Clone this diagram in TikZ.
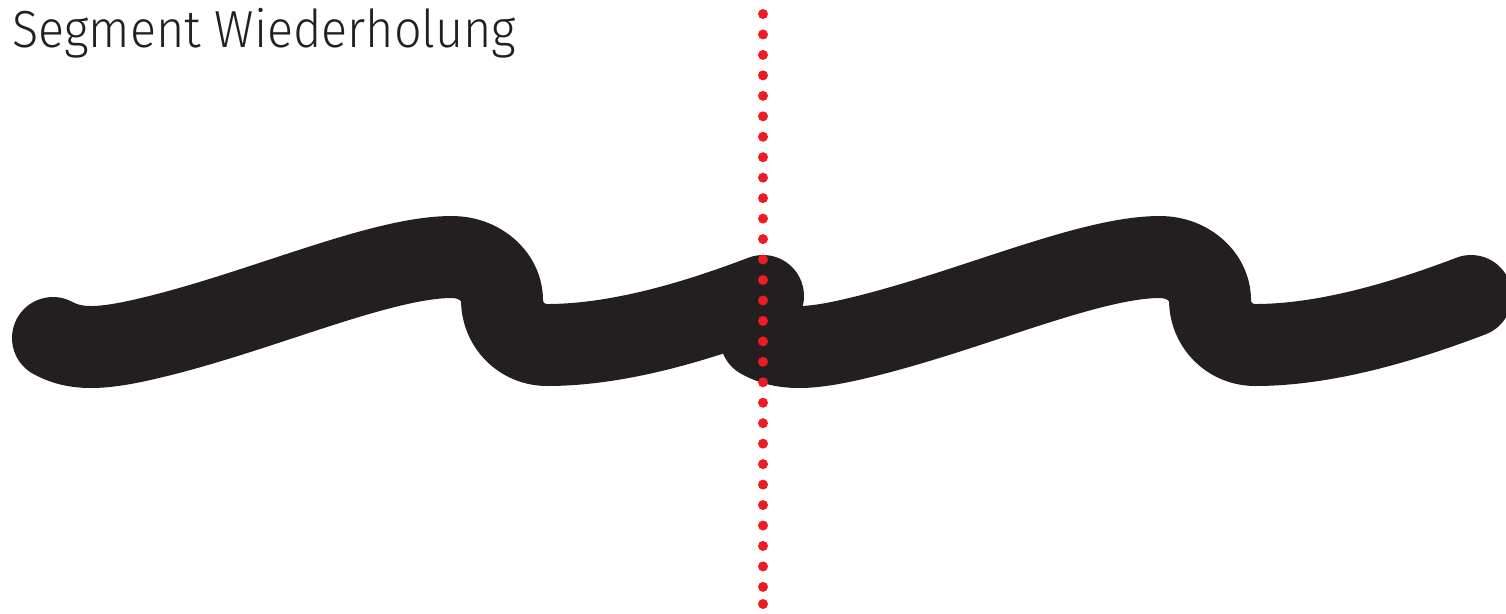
\documentclass[tikz,border=0pt]{standalone}
\usepackage{fontspec}
\setmainfont{Fira Sans Light}[FakeStretch=0.93]
\definecolor{inkblack}{RGB}{35,31,32}
\definecolor{dotred}{RGB}{237,28,36}
\begin{document}
\begin{tikzpicture}[x=0.02cm,y=-0.02cm,
  stroke/.style={line width=1.64cm, line cap=round, line join=round, draw=inkblack},
  reddot/.style={fill=dotred, draw=none}]
\useasboundingbox (0,0) rectangle (1506,613);
\node[anchor=base west, inner sep=0pt, font=\fontsize{29.7}{32}\selectfont, text=inkblack] (title) at (12,47) {Segment Wiederholung};
\foreach \s in {0,708} {
  \draw[stroke, shift={(\s,0)}] (53,338) .. controls (75,350) and (100,350) .. (150,338)
     .. controls (260,312) and (380,257) .. (452,257)
     .. controls (480,257) and (502,277) .. (502,300)
     .. controls (502,325) and (522,345) .. (547,345)
     .. controls (620,345) and (700,320) .. (763,296);
}
\foreach \i in {0,...,28} {
  \fill[reddot] (763,{14+\i*20.46}) circle[radius=0.1cm];
}
\fill[reddot] (763,604) circle[radius=0.1cm];
\end{tikzpicture}
\end{document}
